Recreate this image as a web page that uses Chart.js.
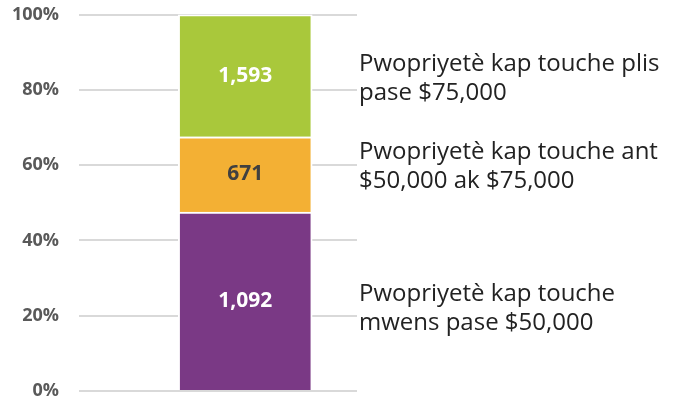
<!DOCTYPE html>
<html>
<head>
<meta charset="utf-8">
<script src="https://cdn.jsdelivr.net/npm/chart.js@4.4.1/dist/chart.umd.min.js"></script>
<style>
  html, body { margin: 0; padding: 0; background: #fff; }
  #wrap { position: relative; width: 676px; height: 400px; }
</style>
</head>
<body>
<div id="wrap"><canvas id="myChart"></canvas></div>
<script>
// segment order: bottom to top
const seriesNames = [
  ['Pwopriyetè kap touche', 'mwens pase $50,000'],
  ['Pwopriyetè kap touche ant', '$50,000 ak $75,000'],
  ['Pwopriyetè kap touche plis', 'pase $75,000']
];
const shares = [47.5, 20.0, 32.5];          // bar height in percent, as drawn
const counts = ['1,092', '671', '1,593'];   // number printed on each segment
const colors = ['#7a3985', '#f3b034', '#a9c83b'];
const countColors = ['#ffffff', '#404040', '#ffffff'];
const yTicks = [0, 20, 40, 60, 80, 100];

const BAR_X = 0.598;

// numbers inside the bar + the labels on the right
const segmentLabels = {
  id: 'segmentLabels',
  afterDatasetsDraw(chart) {
    const ctx = chart.ctx;
    const nudge = [7.5, -7.5, 2.5];
    ctx.save();
    chart.data.datasets.forEach((ds, i) => {
      const bar = chart.getDatasetMeta(i).data[0];
      const cy = (bar.y + bar.base) / 2;
      ctx.textAlign = 'center';
      ctx.textBaseline = 'middle';
      ctx.font = 'bold 21px "Open Sans"';
      ctx.fillStyle = countColors[i];
      ctx.fillText(counts[i], bar.x, cy);

      ctx.textAlign = 'left';
      ctx.font = '24px "Open Sans"';
      ctx.fillStyle = '#222222';
      const lines = seriesNames[i];
      lines.forEach((t, k) => {
        ctx.fillText(t, 359, cy + nudge[i] + (k - (lines.length - 1) / 2) * 29);
      });
    });
    ctx.restore();
  }
};

new Chart(document.getElementById('myChart'), {
  type: 'bar',
  data: {
    datasets: shares.map((v, i) => ({
      label: seriesNames[i].join(' '),
      data: [{ x: BAR_X, y: v }],
      backgroundColor: colors[i],
      borderColor: '#ffffff',
      borderWidth: 2,
      borderSkipped: 'start',
      barThickness: 134
    }))
  },
  options: {
    responsive: true,
    maintainAspectRatio: false,
    animation: false,
    layout: { padding: { left: 10, right: 319, top: 14.5, bottom: 9 } },
    plugins: { legend: { display: false }, tooltip: { enabled: false } },
    scales: {
      x: {
        type: 'linear',
        min: 0,
        max: 1,
        offset: false,
        stacked: true,
        display: false
      },
      y: {
        stacked: true,
        min: 0,
        max: 100,
        afterBuildTicks: (scale) => { scale.ticks = yTicks.map(v => ({ value: v })); },
        afterFit: (scale) => {
          scale.width = 69;
          scale.paddingTop = 0;
          scale.paddingBottom = 0;
        },
        border: { display: false },
        grid: { color: '#d9d9d9', lineWidth: 2, drawTicks: false },
        ticks: {
          padding: 20,
          color: '#595959',
          font: { family: 'Open Sans', size: 18, weight: 'bold', lineHeight: 1 },
          callback: (v) => v + '%'
        }
      }
    }
  },
  plugins: [segmentLabels]
});
</script>
</body>
</html>
